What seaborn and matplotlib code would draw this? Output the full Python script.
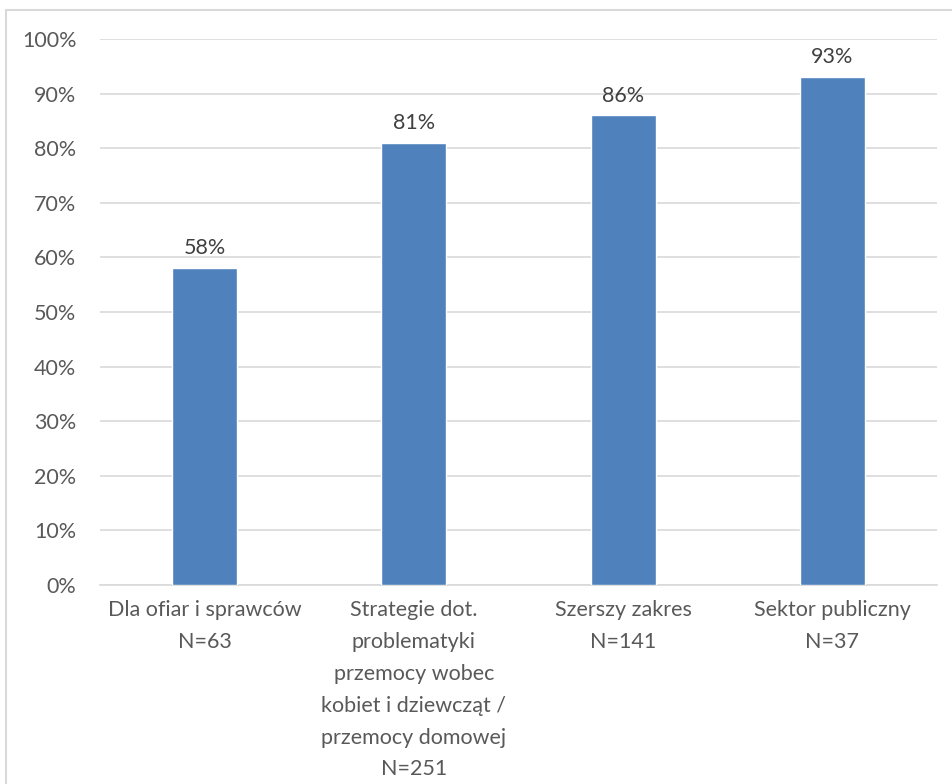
import matplotlib
matplotlib.use("Agg")
import matplotlib.pyplot as plt
from matplotlib.patches import Rectangle
from matplotlib.ticker import FuncFormatter
import seaborn as sns
import pandas as pd

categories = [
    "Dla ofiar i sprawców\nN=63",
    "Strategie dot.\nproblematyki\nprzemocy wobec\nkobiet i dziewcząt /\nprzemocy domowej\nN=251",
    "Szerszy zakres\nN=141",
    "Sektor publiczny\nN=37",
]
values = [58, 81, 86, 93]
y_ticks = [0, 10, 20, 30, 40, 50, 60, 70, 80, 90, 100]

df = pd.DataFrame({"kategoria": categories, "odsetek": values})

sns.set_style("white")
plt.rcParams["font.family"] = ["Lato", "DejaVu Sans"]

fig = plt.figure(figsize=(9.52, 7.84), dpi=100)
ax = fig.add_axes([100 / 952, 1 - 585 / 784, 837 / 952, 546 / 784])

sns.barplot(data=df, x="kategoria", y="odsetek", color="#4F81BD",
            width=0.31, saturation=1, ax=ax, zorder=3)

ax.set_ylim(0, 100)
ax.set_yticks(y_ticks)
ax.yaxis.set_major_formatter(FuncFormatter(lambda v, _: f"{v:.0f}%"))
ax.grid(axis="y", color="#D9D9D9", linewidth=1.2, zorder=0)
ax.set_xlabel("")
ax.set_ylabel("")
for s in ["top", "right", "left"]:
    ax.spines[s].set_visible(False)
ax.spines["bottom"].set_color("#D9D9D9")
ax.spines["bottom"].set_linewidth(1.2)
ax.tick_params(axis="both", length=0, labelsize=15.5, colors="#595959")
ax.tick_params(axis="y", pad=17)
ax.tick_params(axis="x", pad=11)
for lbl in ax.get_xticklabels():
    lbl.set_linespacing(1.74)

for patch, v in zip(ax.patches, values):
    ax.text(patch.get_x() + patch.get_width() / 2, v + 1.8, f"{v}%",
            ha="center", va="bottom", fontsize=15.5, color="#404040")

# outer chart frame
fig.patches.append(Rectangle((6 / 952, -0.01), 1.0, 1 - 10 / 784 + 0.01,
                             transform=fig.transFigure, fill=False,
                             edgecolor="#D9D9D9", linewidth=1.5))

fig.savefig("out.png", dpi=100, facecolor="white")
